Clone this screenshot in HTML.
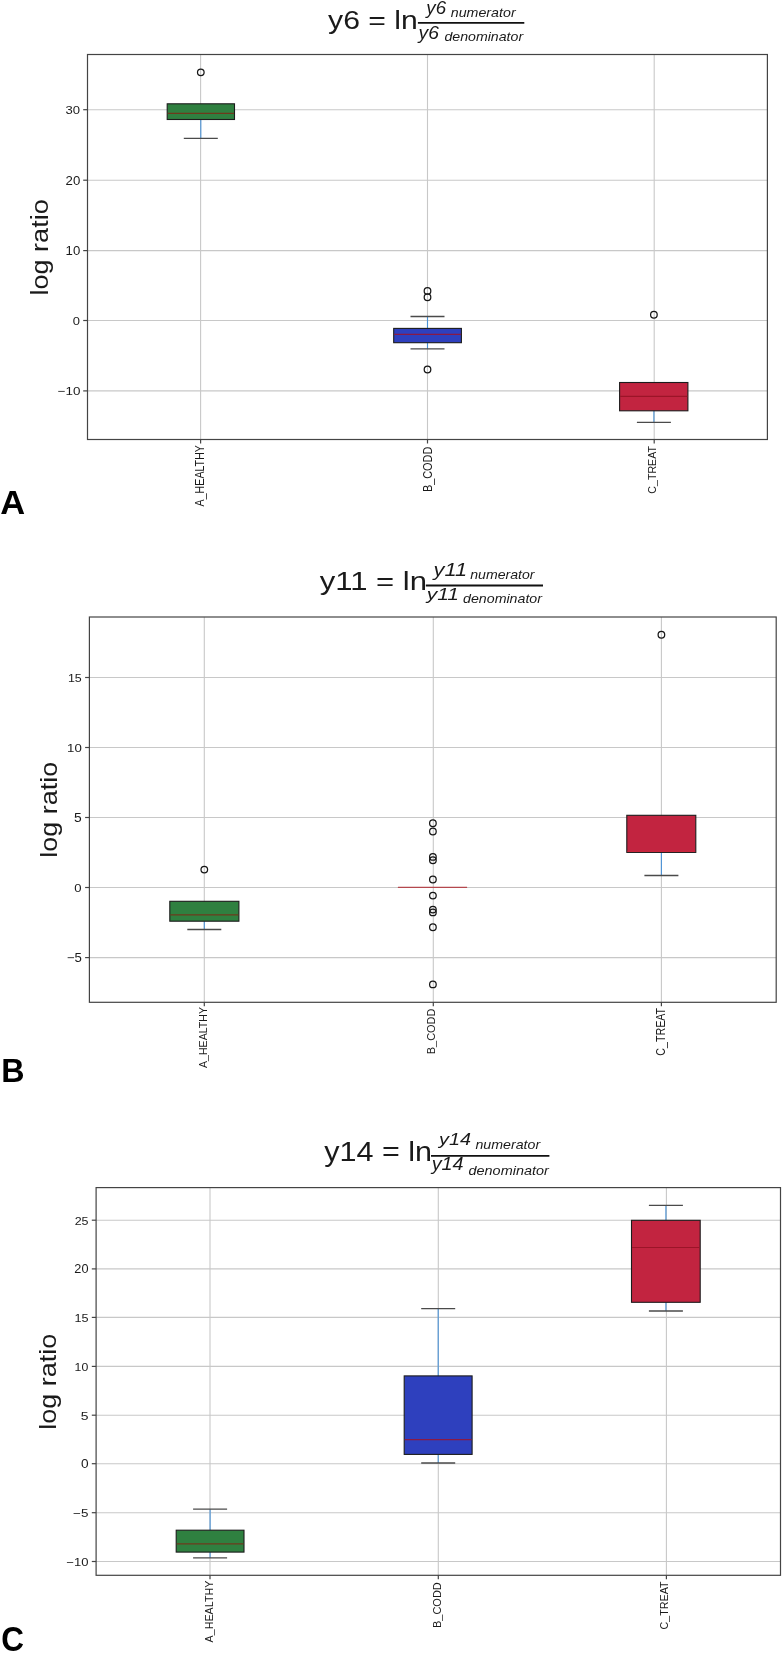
<!DOCTYPE html>
<html><head><meta charset="utf-8"><title>log ratio boxplots</title>
<style>
html,body{margin:0;padding:0;background:#fff;overflow:hidden;width:782px;height:1653px;}
svg{display:block;will-change:transform;}
text{font-family:"Liberation Sans", sans-serif;}
</style></head>
<body>
<svg width="782" height="1653" viewBox="0 0 782 1653" font-family='"Liberation Sans", sans-serif'>
<rect x="0" y="0" width="782" height="1653" fill="#fff"/>
<line x1="87.5" y1="109.7" x2="767.4" y2="109.7" stroke="#c8c8c8" stroke-width="1.1"/>
<line x1="87.5" y1="180.2" x2="767.4" y2="180.2" stroke="#c8c8c8" stroke-width="1.1"/>
<line x1="87.5" y1="250.6" x2="767.4" y2="250.6" stroke="#c8c8c8" stroke-width="1.1"/>
<line x1="87.5" y1="320.5" x2="767.4" y2="320.5" stroke="#c8c8c8" stroke-width="1.1"/>
<line x1="87.5" y1="390.9" x2="767.4" y2="390.9" stroke="#c8c8c8" stroke-width="1.1"/>
<line x1="200.6" y1="54.5" x2="200.6" y2="439.5" stroke="#c8c8c8" stroke-width="1.1"/>
<line x1="427.5" y1="54.5" x2="427.5" y2="439.5" stroke="#c8c8c8" stroke-width="1.1"/>
<line x1="654.2" y1="54.5" x2="654.2" y2="439.5" stroke="#c8c8c8" stroke-width="1.1"/>
<line x1="200.8" y1="119.5" x2="200.8" y2="138.4" stroke="#4a92d6" stroke-width="1.1"/>
<rect x="167.2" y="103.8" width="67.3" height="15.7" fill="#2f8040" stroke="#1c1c1c" stroke-width="1.1"/>
<line x1="183.8" y1="138.4" x2="217.8" y2="138.4" stroke="#4a4a4a" stroke-width="1.3"/>
<line x1="167.7" y1="113.4" x2="234" y2="113.4" stroke="#6e3a1c" stroke-width="1.2"/>
<circle cx="200.8" cy="72.3" r="3.3" fill="none" stroke="#161616" stroke-width="1.25"/>
<line x1="427.5" y1="316.5" x2="427.5" y2="328.4" stroke="#4a92d6" stroke-width="1.1"/>
<line x1="427.5" y1="342.7" x2="427.5" y2="348.8" stroke="#4a92d6" stroke-width="1.1"/>
<rect x="393.7" y="328.4" width="67.7" height="14.3" fill="#2e40be" stroke="#1c1c1c" stroke-width="1.1"/>
<line x1="410.5" y1="316.5" x2="444.5" y2="316.5" stroke="#4a4a4a" stroke-width="1.3"/>
<line x1="410.5" y1="348.8" x2="444.5" y2="348.8" stroke="#4a4a4a" stroke-width="1.3"/>
<line x1="394.2" y1="334.3" x2="460.9" y2="334.3" stroke="#8a1a44" stroke-width="1.2"/>
<circle cx="427.5" cy="290.9" r="3.3" fill="none" stroke="#161616" stroke-width="1.25"/>
<circle cx="427.5" cy="297.2" r="3.3" fill="none" stroke="#161616" stroke-width="1.25"/>
<circle cx="427.5" cy="369.5" r="3.3" fill="none" stroke="#161616" stroke-width="1.25"/>
<line x1="653.9" y1="410.8" x2="653.9" y2="422.3" stroke="#4a92d6" stroke-width="1.1"/>
<rect x="619.6" y="382.5" width="68.3" height="28.3" fill="#c22440" stroke="#1c1c1c" stroke-width="1.1"/>
<line x1="636.9" y1="422.3" x2="670.9" y2="422.3" stroke="#4a4a4a" stroke-width="1.3"/>
<line x1="620.1" y1="396.3" x2="687.4" y2="396.3" stroke="#9c1428" stroke-width="1.2"/>
<circle cx="653.9" cy="314.7" r="3.3" fill="none" stroke="#161616" stroke-width="1.25"/>
<rect x="87.5" y="54.5" width="679.9" height="385" fill="none" stroke="#444" stroke-width="1.2"/>
<line x1="83.2" y1="109.7" x2="87.5" y2="109.7" stroke="#444" stroke-width="1.2"/>
<line x1="83.2" y1="180.2" x2="87.5" y2="180.2" stroke="#444" stroke-width="1.2"/>
<line x1="83.2" y1="250.6" x2="87.5" y2="250.6" stroke="#444" stroke-width="1.2"/>
<line x1="83.2" y1="320.5" x2="87.5" y2="320.5" stroke="#444" stroke-width="1.2"/>
<line x1="83.2" y1="390.9" x2="87.5" y2="390.9" stroke="#444" stroke-width="1.2"/>
<text x="65.55" y="114.1" font-size="11.15" textLength="14.55" lengthAdjust="spacingAndGlyphs" fill="#1a1a1a" id="A_yt0">30</text>
<text x="65.6" y="184.91" font-size="12.25" textLength="14.71" lengthAdjust="spacingAndGlyphs" fill="#1a1a1a" id="A_yt1">20</text>
<text x="65.63" y="255.02" font-size="11.91" textLength="14.65" lengthAdjust="spacingAndGlyphs" fill="#1a1a1a" id="A_yt2">10</text>
<text x="72.85" y="324.98" font-size="11.37" textLength="7.2" lengthAdjust="spacingAndGlyphs" fill="#1a1a1a" id="A_yt3">0</text>
<text x="57.69" y="395.49" font-size="11.66" textLength="22.71" lengthAdjust="spacingAndGlyphs" fill="#1a1a1a" id="A_yt4">−10</text>
<line x1="200.6" y1="439.5" x2="200.6" y2="443.5" stroke="#444" stroke-width="1.2"/>
<line x1="427.5" y1="439.5" x2="427.5" y2="443.5" stroke="#444" stroke-width="1.2"/>
<line x1="654.2" y1="439.5" x2="654.2" y2="443.5" stroke="#444" stroke-width="1.2"/>
<text x="204.48" y="506.44" font-size="12.2" textLength="61.38" lengthAdjust="spacingAndGlyphs" transform="rotate(-90 204.48 506.44)" fill="#1a1a1a" id="A_xt0">A_HEALTHY</text>
<text x="431.54" y="492.09" font-size="12.28" textLength="45.38" lengthAdjust="spacingAndGlyphs" transform="rotate(-90 431.54 492.09)" fill="#1a1a1a" id="A_xt1">B_CODD</text>
<text x="656.42" y="493.66" font-size="10.89" textLength="47.63" lengthAdjust="spacingAndGlyphs" transform="rotate(-90 656.42 493.66)" fill="#1a1a1a" id="A_xt2">C_TREAT</text>
<text x="47.86" y="295.41" font-size="24.12" textLength="96.07" lengthAdjust="spacingAndGlyphs" transform="rotate(-90 47.86 295.41)" fill="#1a1a1a" id="A_yl">log ratio</text>
<text x="328.08" y="29.23" font-size="24.88" textLength="89.7" lengthAdjust="spacingAndGlyphs" fill="#1a1a1a" id="A_tm">y6 = ln</text>
<line x1="417.9" y1="22.9" x2="524.3" y2="22.9" stroke="#111" stroke-width="1.9"/>
<text x="426.38" y="14.16" font-size="17.43" textLength="19.74" lengthAdjust="spacingAndGlyphs" font-style="italic" fill="#1a1a1a" id="A_tn">y6</text>
<text x="450.78" y="16.95" font-size="12.1" textLength="64.89" lengthAdjust="spacingAndGlyphs" font-style="italic" fill="#1a1a1a" id="A_tns">numerator</text>
<text x="418.55" y="38.52" font-size="18.65" textLength="20.3" lengthAdjust="spacingAndGlyphs" font-style="italic" fill="#1a1a1a" id="A_td">y6</text>
<text x="444.43" y="41.2" font-size="12.1" textLength="78.73" lengthAdjust="spacingAndGlyphs" font-style="italic" fill="#1a1a1a" id="A_tds">denominator</text>
<text x="0.18" y="514.2" font-size="32.51" textLength="24.9" lengthAdjust="spacingAndGlyphs" font-weight="bold" fill="#000" id="A_L">A</text>
<line x1="89.4" y1="677.5" x2="776.2" y2="677.5" stroke="#c8c8c8" stroke-width="1.1"/>
<line x1="89.4" y1="747.5" x2="776.2" y2="747.5" stroke="#c8c8c8" stroke-width="1.1"/>
<line x1="89.4" y1="817.5" x2="776.2" y2="817.5" stroke="#c8c8c8" stroke-width="1.1"/>
<line x1="89.4" y1="887.5" x2="776.2" y2="887.5" stroke="#c8c8c8" stroke-width="1.1"/>
<line x1="89.4" y1="957.6" x2="776.2" y2="957.6" stroke="#c8c8c8" stroke-width="1.1"/>
<line x1="204.3" y1="617" x2="204.3" y2="1002.3" stroke="#c8c8c8" stroke-width="1.1"/>
<line x1="433.3" y1="617" x2="433.3" y2="1002.3" stroke="#c8c8c8" stroke-width="1.1"/>
<line x1="661.4" y1="617" x2="661.4" y2="1002.3" stroke="#c8c8c8" stroke-width="1.1"/>
<line x1="204.3" y1="921.2" x2="204.3" y2="929.5" stroke="#4a92d6" stroke-width="1.1"/>
<rect x="169.8" y="901.3" width="69.1" height="19.9" fill="#2f8040" stroke="#1c1c1c" stroke-width="1.1"/>
<line x1="187.3" y1="929.5" x2="221.3" y2="929.5" stroke="#4a4a4a" stroke-width="1.3"/>
<line x1="170.3" y1="914.8" x2="238.4" y2="914.8" stroke="#6e3a1c" stroke-width="1.2"/>
<circle cx="204.3" cy="869.6" r="3.3" fill="none" stroke="#161616" stroke-width="1.25"/>
<line x1="397.9" y1="887.4" x2="467.1" y2="887.4" stroke="#b4484e" stroke-width="1.2"/>
<circle cx="432.9" cy="823.2" r="3.3" fill="none" stroke="#161616" stroke-width="1.25"/>
<circle cx="432.9" cy="831.5" r="3.3" fill="none" stroke="#161616" stroke-width="1.25"/>
<circle cx="432.9" cy="856.9" r="3.3" fill="none" stroke="#161616" stroke-width="1.25"/>
<circle cx="432.9" cy="860.2" r="3.3" fill="none" stroke="#161616" stroke-width="1.25"/>
<circle cx="432.9" cy="879.5" r="3.3" fill="none" stroke="#161616" stroke-width="1.25"/>
<circle cx="432.9" cy="895.6" r="3.3" fill="none" stroke="#161616" stroke-width="1.25"/>
<circle cx="432.9" cy="909.6" r="3.3" fill="none" stroke="#161616" stroke-width="1.25"/>
<circle cx="432.9" cy="912.4" r="3.3" fill="none" stroke="#161616" stroke-width="1.25"/>
<circle cx="432.9" cy="927.2" r="3.3" fill="none" stroke="#161616" stroke-width="1.25"/>
<circle cx="432.9" cy="984.4" r="3.3" fill="none" stroke="#161616" stroke-width="1.25"/>
<line x1="661.4" y1="852.4" x2="661.4" y2="875.5" stroke="#4a92d6" stroke-width="1.1"/>
<rect x="626.8" y="815.3" width="69" height="37.1" fill="#c22440" stroke="#1c1c1c" stroke-width="1.1"/>
<line x1="644.4" y1="875.5" x2="678.4" y2="875.5" stroke="#4a4a4a" stroke-width="1.3"/>
<line x1="627.3" y1="851.3" x2="695.3" y2="851.3" stroke="#d0283c" stroke-width="1"/>
<circle cx="661.4" cy="634.7" r="3.3" fill="none" stroke="#161616" stroke-width="1.25"/>
<rect x="89.4" y="617" width="686.8" height="385.3" fill="none" stroke="#444" stroke-width="1.2"/>
<line x1="85.1" y1="677.5" x2="89.4" y2="677.5" stroke="#444" stroke-width="1.2"/>
<line x1="85.1" y1="747.5" x2="89.4" y2="747.5" stroke="#444" stroke-width="1.2"/>
<line x1="85.1" y1="817.5" x2="89.4" y2="817.5" stroke="#444" stroke-width="1.2"/>
<line x1="85.1" y1="887.5" x2="89.4" y2="887.5" stroke="#444" stroke-width="1.2"/>
<line x1="85.1" y1="957.6" x2="89.4" y2="957.6" stroke="#444" stroke-width="1.2"/>
<text x="67.97" y="681.73" font-size="11.3" textLength="13.82" lengthAdjust="spacingAndGlyphs" fill="#1a1a1a" id="B_yt0">15</text>
<text x="67.04" y="751.85" font-size="11.63" textLength="14.72" lengthAdjust="spacingAndGlyphs" fill="#1a1a1a" id="B_yt1">10</text>
<text x="73.94" y="822.41" font-size="12.5" textLength="7.71" lengthAdjust="spacingAndGlyphs" fill="#1a1a1a" id="B_yt2">5</text>
<text x="74.34" y="891.87" font-size="11.5" textLength="7.27" lengthAdjust="spacingAndGlyphs" fill="#1a1a1a" id="B_yt3">0</text>
<text x="66.82" y="962.16" font-size="12.26" textLength="15.04" lengthAdjust="spacingAndGlyphs" fill="#1a1a1a" id="B_yt4">−5</text>
<line x1="204.3" y1="1002.3" x2="204.3" y2="1006.3" stroke="#444" stroke-width="1.2"/>
<line x1="433.3" y1="1002.3" x2="433.3" y2="1006.3" stroke="#444" stroke-width="1.2"/>
<line x1="661.4" y1="1002.3" x2="661.4" y2="1006.3" stroke="#444" stroke-width="1.2"/>
<text x="206.6" y="1067.99" font-size="11.5" textLength="61.05" lengthAdjust="spacingAndGlyphs" transform="rotate(-90 206.6 1067.99)" fill="#1a1a1a" id="B_xt0">A_HEALTHY</text>
<text x="435.4" y="1054.21" font-size="11.22" textLength="45.59" lengthAdjust="spacingAndGlyphs" transform="rotate(-90 435.4 1054.21)" fill="#1a1a1a" id="B_xt1">B_CODD</text>
<text x="665.02" y="1055.68" font-size="12.18" textLength="47.79" lengthAdjust="spacingAndGlyphs" transform="rotate(-90 665.02 1055.68)" fill="#1a1a1a" id="B_xt2">C_TREAT</text>
<text x="57.12" y="857.72" font-size="23.43" textLength="95.92" lengthAdjust="spacingAndGlyphs" transform="rotate(-90 57.12 857.72)" fill="#1a1a1a" id="B_yl">log ratio</text>
<text x="319.67" y="590.49" font-size="26.54" textLength="107.28" lengthAdjust="spacingAndGlyphs" fill="#1a1a1a" id="B_tm">y11 = ln</text>
<line x1="425.8" y1="585.5" x2="543" y2="585.5" stroke="#111" stroke-width="1.9"/>
<text x="433.57" y="575.89" font-size="17.6" textLength="33.52" lengthAdjust="spacingAndGlyphs" font-style="italic" fill="#1a1a1a" id="B_tn">y11</text>
<text x="470.29" y="578.79" font-size="12.1" textLength="64.26" lengthAdjust="spacingAndGlyphs" font-style="italic" fill="#1a1a1a" id="B_tns">numerator</text>
<text x="426.76" y="599.92" font-size="16.86" textLength="32.26" lengthAdjust="spacingAndGlyphs" font-style="italic" fill="#1a1a1a" id="B_td">y11</text>
<text x="463.03" y="603.2" font-size="12.1" textLength="79" lengthAdjust="spacingAndGlyphs" font-style="italic" fill="#1a1a1a" id="B_tds">denominator</text>
<text x="1.27" y="1081.54" font-size="32.43" textLength="23.28" lengthAdjust="spacingAndGlyphs" font-weight="bold" fill="#000" id="B_L">B</text>
<line x1="96.1" y1="1220.2" x2="780.5" y2="1220.2" stroke="#c8c8c8" stroke-width="1.1"/>
<line x1="96.1" y1="1268.9" x2="780.5" y2="1268.9" stroke="#c8c8c8" stroke-width="1.1"/>
<line x1="96.1" y1="1317.4" x2="780.5" y2="1317.4" stroke="#c8c8c8" stroke-width="1.1"/>
<line x1="96.1" y1="1366.4" x2="780.5" y2="1366.4" stroke="#c8c8c8" stroke-width="1.1"/>
<line x1="96.1" y1="1415.2" x2="780.5" y2="1415.2" stroke="#c8c8c8" stroke-width="1.1"/>
<line x1="96.1" y1="1463.7" x2="780.5" y2="1463.7" stroke="#c8c8c8" stroke-width="1.1"/>
<line x1="96.1" y1="1512.7" x2="780.5" y2="1512.7" stroke="#c8c8c8" stroke-width="1.1"/>
<line x1="96.1" y1="1561.5" x2="780.5" y2="1561.5" stroke="#c8c8c8" stroke-width="1.1"/>
<line x1="210" y1="1187.6" x2="210" y2="1575.3" stroke="#c8c8c8" stroke-width="1.1"/>
<line x1="438.3" y1="1187.6" x2="438.3" y2="1575.3" stroke="#c8c8c8" stroke-width="1.1"/>
<line x1="666.4" y1="1187.6" x2="666.4" y2="1575.3" stroke="#c8c8c8" stroke-width="1.1"/>
<line x1="210.1" y1="1509.2" x2="210.1" y2="1530.2" stroke="#4a92d6" stroke-width="1.1"/>
<line x1="210.1" y1="1552.1" x2="210.1" y2="1557.8" stroke="#4a92d6" stroke-width="1.1"/>
<rect x="176.2" y="1530.2" width="67.8" height="21.9" fill="#2f8040" stroke="#1c1c1c" stroke-width="1.1"/>
<line x1="193.1" y1="1509.2" x2="227.1" y2="1509.2" stroke="#4a4a4a" stroke-width="1.3"/>
<line x1="193.1" y1="1557.8" x2="227.1" y2="1557.8" stroke="#4a4a4a" stroke-width="1.3"/>
<line x1="176.7" y1="1543.8" x2="243.5" y2="1543.8" stroke="#6e3a1c" stroke-width="1.2"/>
<line x1="438.2" y1="1308.6" x2="438.2" y2="1375.9" stroke="#4a92d6" stroke-width="1.1"/>
<line x1="438.2" y1="1454.4" x2="438.2" y2="1463" stroke="#4a92d6" stroke-width="1.1"/>
<rect x="404.2" y="1375.9" width="67.9" height="78.5" fill="#2e40be" stroke="#1c1c1c" stroke-width="1.1"/>
<line x1="421.2" y1="1308.6" x2="455.2" y2="1308.6" stroke="#4a4a4a" stroke-width="1.3"/>
<line x1="421.2" y1="1463" x2="455.2" y2="1463" stroke="#4a4a4a" stroke-width="1.3"/>
<line x1="404.7" y1="1439.6" x2="471.6" y2="1439.6" stroke="#8a1a44" stroke-width="1.2"/>
<line x1="665.9" y1="1205.3" x2="665.9" y2="1220.3" stroke="#4a92d6" stroke-width="1.1"/>
<line x1="665.9" y1="1302.3" x2="665.9" y2="1311" stroke="#4a92d6" stroke-width="1.1"/>
<rect x="631.5" y="1220.3" width="68.7" height="82" fill="#c22440" stroke="#1c1c1c" stroke-width="1.1"/>
<line x1="648.9" y1="1205.3" x2="682.9" y2="1205.3" stroke="#4a4a4a" stroke-width="1.3"/>
<line x1="648.9" y1="1311" x2="682.9" y2="1311" stroke="#4a4a4a" stroke-width="1.3"/>
<line x1="632" y1="1247.5" x2="699.7" y2="1247.5" stroke="#9c1428" stroke-width="1.2"/>
<rect x="96.1" y="1187.6" width="684.4" height="387.7" fill="none" stroke="#444" stroke-width="1.2"/>
<line x1="91.8" y1="1220.2" x2="96.1" y2="1220.2" stroke="#444" stroke-width="1.2"/>
<line x1="91.8" y1="1268.9" x2="96.1" y2="1268.9" stroke="#444" stroke-width="1.2"/>
<line x1="91.8" y1="1317.4" x2="96.1" y2="1317.4" stroke="#444" stroke-width="1.2"/>
<line x1="91.8" y1="1366.4" x2="96.1" y2="1366.4" stroke="#444" stroke-width="1.2"/>
<line x1="91.8" y1="1415.2" x2="96.1" y2="1415.2" stroke="#444" stroke-width="1.2"/>
<line x1="91.8" y1="1463.7" x2="96.1" y2="1463.7" stroke="#444" stroke-width="1.2"/>
<line x1="91.8" y1="1512.7" x2="96.1" y2="1512.7" stroke="#444" stroke-width="1.2"/>
<line x1="91.8" y1="1561.5" x2="96.1" y2="1561.5" stroke="#444" stroke-width="1.2"/>
<text x="74.68" y="1224.96" font-size="10.97" textLength="13.87" lengthAdjust="spacingAndGlyphs" fill="#1a1a1a" id="C_yt0">25</text>
<text x="74.36" y="1273.32" font-size="11.88" textLength="14.14" lengthAdjust="spacingAndGlyphs" fill="#1a1a1a" id="C_yt1">20</text>
<text x="74.45" y="1322.16" font-size="11.71" textLength="14.07" lengthAdjust="spacingAndGlyphs" fill="#1a1a1a" id="C_yt2">15</text>
<text x="74.64" y="1371.24" font-size="10.79" textLength="13.66" lengthAdjust="spacingAndGlyphs" fill="#1a1a1a" id="C_yt3">10</text>
<text x="80.72" y="1420.1" font-size="11.06" textLength="7.75" lengthAdjust="spacingAndGlyphs" fill="#1a1a1a" id="C_yt4">5</text>
<text x="80.91" y="1468.4" font-size="12.58" textLength="7.62" lengthAdjust="spacingAndGlyphs" fill="#1a1a1a" id="C_yt5">0</text>
<text x="73.14" y="1517.26" font-size="11.49" textLength="15.3" lengthAdjust="spacingAndGlyphs" fill="#1a1a1a" id="C_yt6">−5</text>
<text x="66.35" y="1565.61" font-size="11.32" textLength="22.14" lengthAdjust="spacingAndGlyphs" fill="#1a1a1a" id="C_yt7">−10</text>
<line x1="210" y1="1575.3" x2="210" y2="1579.3" stroke="#444" stroke-width="1.2"/>
<line x1="438.3" y1="1575.3" x2="438.3" y2="1579.3" stroke="#444" stroke-width="1.2"/>
<line x1="666.4" y1="1575.3" x2="666.4" y2="1579.3" stroke="#444" stroke-width="1.2"/>
<text x="213.11" y="1642.38" font-size="11.55" textLength="61.72" lengthAdjust="spacingAndGlyphs" transform="rotate(-90 213.11 1642.38)" fill="#1a1a1a" id="C_xt0">A_HEALTHY</text>
<text x="440.77" y="1627.97" font-size="10.83" textLength="45.74" lengthAdjust="spacingAndGlyphs" transform="rotate(-90 440.77 1627.97)" fill="#1a1a1a" id="C_xt1">B_CODD</text>
<text x="668.47" y="1629.39" font-size="11.08" textLength="48.06" lengthAdjust="spacingAndGlyphs" transform="rotate(-90 668.47 1629.39)" fill="#1a1a1a" id="C_xt2">C_TREAT</text>
<text x="56.48" y="1429.66" font-size="23.49" textLength="95.94" lengthAdjust="spacingAndGlyphs" transform="rotate(-90 56.48 1429.66)" fill="#1a1a1a" id="C_yl">log ratio</text>
<text x="324.27" y="1161.19" font-size="26.93" textLength="107.76" lengthAdjust="spacingAndGlyphs" fill="#1a1a1a" id="C_tm">y14 = ln</text>
<line x1="431" y1="1155.9" x2="549.4" y2="1155.9" stroke="#111" stroke-width="1.9"/>
<text x="439.09" y="1145.47" font-size="17.32" textLength="31.96" lengthAdjust="spacingAndGlyphs" font-style="italic" fill="#1a1a1a" id="C_tn">y14</text>
<text x="475.43" y="1149.16" font-size="12.1" textLength="64.72" lengthAdjust="spacingAndGlyphs" font-style="italic" fill="#1a1a1a" id="C_tns">numerator</text>
<text x="431.66" y="1170.21" font-size="17.89" textLength="31.9" lengthAdjust="spacingAndGlyphs" font-style="italic" fill="#1a1a1a" id="C_td">y14</text>
<text x="468.54" y="1174.6" font-size="12.1" textLength="80.26" lengthAdjust="spacingAndGlyphs" font-style="italic" fill="#1a1a1a" id="C_tds">denominator</text>
<text x="1.31" y="1651.2" font-size="34.4" textLength="22.7" lengthAdjust="spacingAndGlyphs" font-weight="bold" fill="#000" id="C_L">C</text>
</svg>
</body></html>
